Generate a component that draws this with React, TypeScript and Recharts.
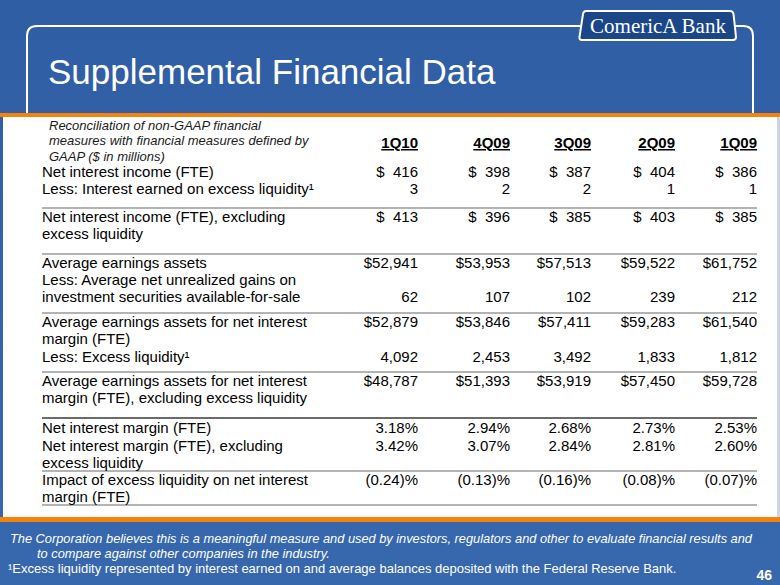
import React from "react";
import { ScatterChart, Scatter, XAxis, YAxis, ReferenceLine } from "recharts";

// ---- data ----
const quarters = ["1Q10", "4Q09", "3Q09", "2Q09", "1Q09"];

const introLines = [
  "Reconciliation of non-GAAP financial",
  "measures with financial measures defined by",
  "GAAP ($ in millions)",
];

const rowLabels = [
  ["Net interest income (FTE)"],
  ["Less: Interest earned on excess liquidity\u00b9"],
  ["Net interest income (FTE), excluding", "excess liquidity"],
  ["Average earnings assets"],
  ["Less: Average net unrealized gains on", "investment securities available-for-sale"],
  ["Average earnings assets for net interest", "margin (FTE)"],
  ["Less: Excess liquidity\u00b9"],
  ["Average earnings assets for net interest", "margin (FTE), excluding excess liquidity"],
  ["Net interest margin (FTE)"],
  ["Net interest margin (FTE), excluding", "excess liquidity"],
  ["Impact of excess liquidity on net interest", "margin (FTE)"],
];

const netInterestIncome = [416, 398, 387, 404, 386];
const interestOnExcess = [3, 2, 2, 1, 1];
const netInterestIncomeExcl = [413, 396, 385, 403, 385];
const avgEarningAssets = [52941, 53953, 57513, 59522, 61752];
const unrealizedGains = [62, 107, 102, 239, 212];
const avgEarningAssetsNim = [52879, 53846, 57411, 59283, 61540];
const excessLiquidity = [4092, 2453, 3492, 1833, 1812];
const avgEarningAssetsNimExcl = [48787, 51393, 53919, 57450, 59728];
const netInterestMargin = [3.18, 2.94, 2.68, 2.73, 2.53];
const netInterestMarginExcl = [3.42, 3.07, 2.84, 2.81, 2.6];
const excessImpact = [-0.24, -0.13, -0.16, -0.08, -0.07];

const rowValues = [
  netInterestIncome,
  interestOnExcess,
  netInterestIncomeExcl,
  avgEarningAssets,
  unrealizedGains,
  avgEarningAssetsNim,
  excessLiquidity,
  avgEarningAssetsNimExcl,
  netInterestMargin,
  netInterestMarginExcl,
  excessImpact,
];
const rowFormats = ["dollarPad", "plain", "dollarPad", "dollar", "plain", "dollar", "plain", "dollar", "pct", "pct", "pct"];

const footerLines = [
  "The Corporation believes this is a meaningful measure and used by investors, regulators and other to evaluate financial results and",
  "to compare against other companies in the industry.",
];
const footnote = "\u00b9Excess liquidity represented by interest earned on and average balances deposited with the Federal Reserve Bank.";

// ---- layout ----
const W = 780;
const H = 585;
const COL_RIGHT = [418, 510, 591, 675, 757];
const LABEL_X = 42;
const INTRO_X = 49;
const INTRO_Y = 125;
const INTRO_H = 15.5;
const HEADER_Y = 143;
const ROW_TOP = [172, 189, 217, 263, 280, 322, 357, 381, 428, 446, 480];
const VALUE_LINE = [0, 0, 0, 0, 1, 0, 0, 0, 0, 0, 0];
const LINE_H = 17;
const RULES = [
  { y: 208, heavy: false },
  { y: 254, heavy: false },
  { y: 313, heavy: false },
  { y: 372, heavy: false },
  { y: 418, heavy: true },
  { y: 471, heavy: false },
  { y: 505, heavy: false },
];

const FONT = '"Liberation Sans", Arial, Helvetica, sans-serif';
const NBSP = "\u00a0";

function fmt(v: number, kind: string) {
  const abs = Math.abs(v);
  switch (kind) {
    case "dollarPad":
      return "$" + NBSP + NBSP + abs.toLocaleString("en-US");
    case "dollar":
      return "$" + abs.toLocaleString("en-US");
    case "pct":
      return v < 0 ? "(" + abs.toFixed(2) + ")%" : v.toFixed(2) + "%";
    default:
      return abs.toLocaleString("en-US");
  }
}

type Cell = { x: number; y: number; text: string; kind: string };

const cells: Cell[] = [];
introLines.forEach((t, i) => cells.push({ x: INTRO_X, y: INTRO_Y + i * INTRO_H, text: t, kind: "intro" }));
quarters.forEach((q, c) => cells.push({ x: COL_RIGHT[c], y: HEADER_Y, text: q, kind: "header" }));
rowLabels.forEach((lines, r) => {
  lines.forEach((t, i) => cells.push({ x: LABEL_X, y: ROW_TOP[r] + i * LINE_H, text: t, kind: "label" }));
  rowValues[r].forEach((v, c) =>
    cells.push({ x: COL_RIGHT[c], y: ROW_TOP[r] + VALUE_LINE[r] * LINE_H, text: fmt(v, rowFormats[r]), kind: "value" })
  );
});

const cellStyle: Record<string, any> = {
  intro: { fontSize: 13, fontStyle: "italic", fill: "#1a1a1a", textAnchor: "start", dy: 4.5 },
  header: { fontSize: 15, fontWeight: "bold", fill: "#000", textAnchor: "end", dy: 5, textDecoration: "underline" },
  label: { fontSize: 15, fill: "#000", textAnchor: "start", dy: 5 },
  value: { fontSize: 15, fill: "#000", textAnchor: "end", dy: 5 },
};

const TextCell = (props: any) => {
  const { cx, cy, payload } = props;
  const s = cellStyle[payload.kind];
  return (
    <text x={cx} y={cy} dy={s.dy} fontFamily={FONT} fontSize={s.fontSize} fontStyle={s.fontStyle}
      fontWeight={s.fontWeight} fill={s.fill} textAnchor={s.textAnchor}
      style={{ textDecoration: s.textDecoration }}>
      {payload.text}
    </text>
  );
};

function SlideBackground() {
  return (
    <svg width={W} height={H} style={{ position: "absolute", left: 0, top: 0 }}>
      <defs>
        <linearGradient id="bg" x1="0" y1="0" x2="0" y2="1">
          <stop offset="0" stopColor="#2f5ea4" />
          <stop offset="1" stopColor="#3768ae" />
        </linearGradient>
      </defs>
      <rect x={0} y={0} width={W} height={H} fill="url(#bg)" />
      <rect x={3} y={117} width={774} height={400} fill="#ffffff" />
      <rect x={777} y={117} width={3} height={400} fill="#c9d5e6" />
      <rect x={0} y={113} width={W} height={4} fill="#f5820a" />
      <rect x={0} y={517} width={W} height={5} fill="#f5820a" />
      <path d="M27 113 V36 Q27 26 37 26 H583 M733 26 H743 Q753 26 753 36 V113" stroke="#ffffff" strokeWidth={2} fill="none" />
      <path d="M586 11 H730 Q733 11 733.5 14 L736 37 Q736 40 733 40 H582 Q579 40 579.5 37 L583 14 Q583.5 11 586 11 Z"
        fill="#1b4789" stroke="#ffffff" strokeWidth={2} />
      <text x={658} y={33} textAnchor="middle" fontFamily='"Liberation Serif", "Times New Roman", serif' fontSize={21} fill="#ffffff">
        ComericA Bank
      </text>
      <text x={48} y={84} fontFamily={FONT} fontSize={35} fill="#ffffff">Supplemental Financial Data</text>
      <text x={10} y={543} fontFamily={FONT} fontSize={12.8} fontStyle="italic" fill="#ffffff">{footerLines[0]}</text>
      <text x={37} y={557.5} fontFamily={FONT} fontSize={12.8} fontStyle="italic" fill="#ffffff">{footerLines[1]}</text>
      <text x={8} y={572.5} fontFamily={FONT} fontSize={13} fill="#ffffff">{footnote}</text>
      <text x={772} y={580} textAnchor="end" fontFamily={FONT} fontSize={14} fontWeight="bold" fill="#ffffff">46</text>
    </svg>
  );
}

export default function App() {
  return (
    <div style={{ position: "absolute", left: 0, top: 0, width: W, height: H, overflow: "hidden" }}>
      <SlideBackground />
      <div style={{ position: "absolute", left: 0, top: 0 }}>
        <ScatterChart width={W} height={H} margin={{ top: 0, right: 0, bottom: 0, left: 0 }}>
          <XAxis type="number" dataKey="x" domain={[0, W]} hide allowDataOverflow />
          <YAxis type="number" dataKey="y" domain={[0, H]} reversed hide allowDataOverflow />
          {RULES.map((r, i) => (
            <ReferenceLine key={i} segment={[{ x: LABEL_X, y: r.y }, { x: COL_RIGHT[4], y: r.y }]}
              stroke={r.heavy ? "#6b6b6b" : "#9a9a9a"} strokeWidth={r.heavy ? 2 : 1.5} />
          ))}
          <Scatter data={cells} shape={TextCell} isAnimationActive={false} />
        </ScatterChart>
      </div>
    </div>
  );
}
